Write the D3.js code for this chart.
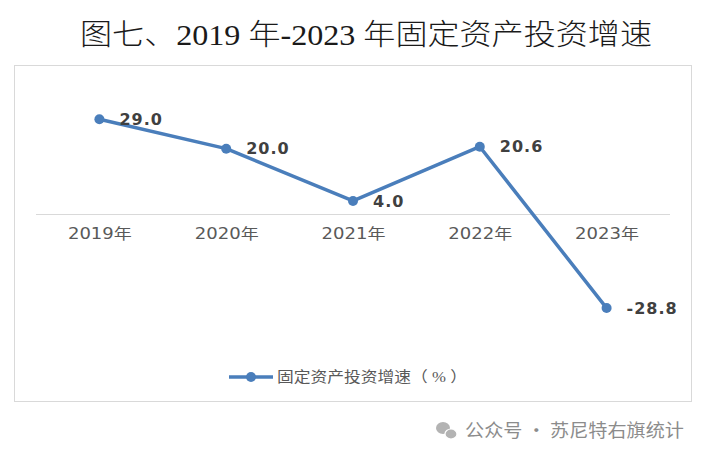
<!DOCTYPE html>
<html>
<head>
<meta charset="utf-8">
<script src="https://cdn.jsdelivr.net/npm/d3@7"></script>
<style>
  body { margin: 0; background: #fff; }
  svg { display: block; }
</style>
</head>
<body>
<svg id="chart"></svg>
<script>
// chart data
const years = ['2019年', '2020年', '2021年', '2022年', '2023年'];
const growth = [29.0, 20.0, 4.0, 20.6, -28.8];
const titleText = '图七、2019 年-2023 年固定资产投资增速';
const seriesName = '固定资产投资增速（ % ）';
const watermark = '公众号 · 苏尼特右旗统计';

const width = 706, height = 459;
const blue = '#4a7ebb';

const svg = d3.select('#chart')
    .attr('width', width)
    .attr('height', height);

// title
svg.append('text')
    .attr('x', 366).attr('y', 45)
    .attr('text-anchor', 'middle')
    .attr('textLength', 572)
    .attr('lengthAdjust', 'spacingAndGlyphs')
    .style('font-family', '"Liberation Serif", "Noto Sans CJK SC", serif')
    .style('font-size', '29px')
    .style('font-weight', 300)
    .attr('fill', '#1a1a1a')
    .text(titleText);

// chart frame
svg.append('rect')
    .attr('x', 14.5).attr('y', 65.5)
    .attr('width', 677).attr('height', 336)
    .attr('fill', 'none')
    .attr('stroke', '#d9d9d9')
    .attr('stroke-width', 1);

const xScale = d3.scalePoint()
    .domain(years)
    .range([36, 670])
    .padding(0.5);

const yScale = d3.scaleLinear()
    .domain([-30, 30])
    .range([312, 116]);

// zero axis with category labels
const xAxis = d3.axisBottom(xScale)
    .tickSize(0)
    .tickPadding(14);

const xAxisG = svg.append('g')
    .attr('transform', `translate(0,${yScale(0)})`)
    .call(xAxis);

xAxisG.select('.domain')
    .attr('d', `M36,0.5H670`)
    .attr('stroke', '#d9d9d9');

xAxisG.selectAll('text')
    .attr('textLength', 64)
    .attr('lengthAdjust', 'spacingAndGlyphs')
    .style('font-family', '"DejaVu Sans", "Noto Sans CJK SC", sans-serif')
    .style('font-size', '15px')
    .attr('fill', '#595959');

// line
const line = d3.line()
    .x((d, i) => xScale(years[i]))
    .y(d => yScale(d));

svg.append('path')
    .datum(growth)
    .attr('d', line)
    .attr('fill', 'none')
    .attr('stroke', blue)
    .attr('stroke-width', 3.5)
    .attr('stroke-linejoin', 'round');

svg.selectAll('.dot')
    .data(growth)
    .join('circle')
    .attr('class', 'dot')
    .attr('cx', (d, i) => xScale(years[i]))
    .attr('cy', d => yScale(d))
    .attr('r', 5)
    .attr('fill', blue);

// data labels
svg.selectAll('.label')
    .data(growth)
    .join('text')
    .attr('class', 'label')
    .attr('x', (d, i) => xScale(years[i]) + 20)
    .attr('y', d => yScale(d))
    .attr('dy', '0.35em')
    .style('font-family', '"DejaVu Sans", sans-serif')
    .style('font-size', '16px')
    .style('font-weight', 'bold')
    .style('letter-spacing', '1px')
    .attr('fill', '#404040')
    .text(d => d.toFixed(1));

// legend
const legend = svg.append('g');
legend.append('line')
    .attr('x1', 229).attr('x2', 273)
    .attr('y1', 377).attr('y2', 377)
    .attr('stroke', blue)
    .attr('stroke-width', 3.5);
legend.append('circle')
    .attr('cx', 251).attr('cy', 377)
    .attr('r', 5)
    .attr('fill', blue);
legend.append('text')
    .attr('x', 277).attr('y', 377)
    .attr('dy', '0.35em')
    .attr('textLength', 190)
    .attr('lengthAdjust', 'spacingAndGlyphs')
    .style('font-family', '"Liberation Serif", "Noto Sans CJK SC", serif')
    .style('font-size', '15px')
    .attr('fill', '#595959')
    .text(seriesName);

// watermark
const wm = svg.append('g').attr('fill', '#b3b3b3');
wm.append('ellipse').attr('cx', 443).attr('cy', 428).attr('rx', 7).attr('ry', 6);
wm.append('ellipse').attr('cx', 451).attr('cy', 434).attr('rx', 6).attr('ry', 5).attr('stroke', '#fff').attr('stroke-width', 1.2);
wm.append('text')
    .attr('x', 465).attr('y', 431)
    .attr('dy', '0.35em')
    .attr('textLength', 219)
    .attr('lengthAdjust', 'spacingAndGlyphs')
    .style('font-family', '"Noto Sans CJK SC", sans-serif')
    .style('font-size', '18px')
    .attr('fill', '#8c8c8c')
    .text(watermark);
</script>
</body>
</html>
